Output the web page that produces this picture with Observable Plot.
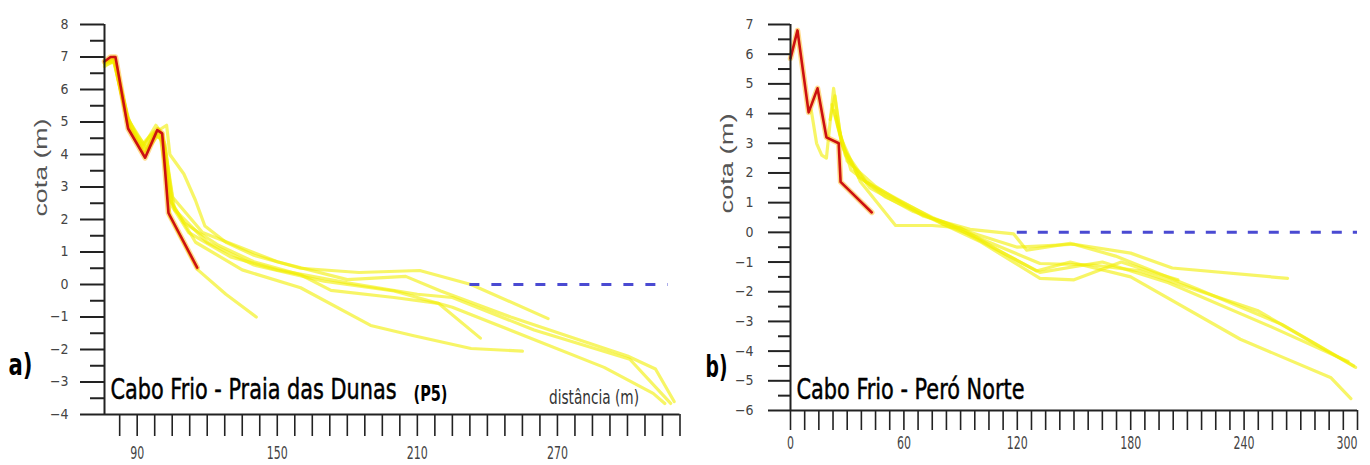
<!DOCTYPE html>
<html><head><meta charset="utf-8">
<script src="https://cdn.jsdelivr.net/npm/d3@7"></script>
<script src="https://cdn.jsdelivr.net/npm/@observablehq/plot@0.6"></script>
<style>
body{margin:0;background:#fff;}
#wrap{display:flex;width:1370px;height:465px;overflow:hidden;}
#wrap svg{overflow:visible;flex:none;}
</style></head><body><div id="wrap"></div>
<script>
// ---------- Panel a) Cabo Frio - Praia das Dunas (P5) ----------
const dunasRed = [[76,6.86],[78.6,7.0],[80.7,7.0],[86.1,4.8],[93.4,3.9],[98.6,4.75],[100.7,4.65],[103.4,2.2],[115.7,0.52]];
const dunasY1 = [[76,6.8],[80,6.95],[85,5.3],[92,4.2],[96,4.6],[102.6,4.9],[104,4.0],[110,3.4],[114.9,2.6],[119,1.8],[128,1.3],[140,0.9],[160,0.5],[185,0.37],[211,0.43],[233,0.0],[266,-1.05]];
const dunasY2 = [[76,6.7],[80,6.9],[86,5.0],[93,4.1],[97,4.6],[100,4.5],[104,2.6],[110,1.9],[125,1.2],[140,0.7],[160,0.3],[173,-0.18],[200,-0.4],[219,-0.58],[237,-1.65]];
const dunasY3 = [[76,6.9],[81,6.8],[86,5.1],[90,4.6],[94,4.2],[99,4.8],[102,4.3],[105,2.4],[112,1.6],[130,0.85],[150,0.45],[180,0.05],[210,-0.3],[225,-0.4],[260,-1.4],[301,-2.3],[318.5,-3.66]];
const dunasY4 = [[76,6.8],[80,6.9],[86,4.9],[93,4.0],[98,4.7],[101,4.5],[104,2.1],[116,0.45],[128,-0.3],[141,-1.0]];
const dunasY5 = [[76,6.75],[80,6.85],[86,5.0],[92,4.3],[97,4.7],[101,4.4],[105,2.5],[115,1.3],[135,0.45],[160,-0.1],[190,-1.26],[208,-1.57],[233,-1.97],[255,-2.05]];
const dunasY6 = [[76,6.8],[80,6.9],[87,4.9],[94,4.1],[99,4.6],[102,4.2],[106,2.3],[120,1.3],[140,0.6],[170,0.1],[200,-0.2],[225,-0.7],[290,-2.55],[311,-3.35],[316,-3.66]];
const dunasY7 = [[76,6.85],[80,7.0],[86,5.1],[93,4.3],[98,4.9],[101,4.6],[105,2.7],[118,1.6],[150,0.7],[180,0.15],[205,0.25],[220,-0.2],[250,-1.0],[300,-2.2],[312,-2.6],[320,-3.6]];
const dunasZero = [{x1: 232.5, x2: 317.5, y: 0}];
const dunasXDomain = [76, 322.5];
const dunasYDomain = [-4, 8];
const dunasXLabels = [90, 150, 210, 270];

// ---------- Panel b) Cabo Frio - Peró Norte ----------
const peroRed = [[0,5.86],[3.7,6.8],[9.6,4.04],[14.3,4.85],[19,3.2],[25.5,3.0],[26.5,1.7],[43,0.67]];
const peroY1 = [[11,4.1],[13.8,3.0],[16.5,2.6],[19,2.5],[22.8,4.85],[26.5,3.2],[36,1.85],[50,1.3],[75,0.5],[95,0.0],[120,-0.5],[150,-0.4],[180,-0.7],[202,-1.2],[263,-1.55]];
const peroY2 = [[21,3.8],[23.5,4.6],[27,3.0],[35,2.0],[37,1.7],[55.6,0.23],[75,0.23],[90,0.15],[110,-0.6],[130,-1.3],[148,-1.0],[180,-1.5],[238,-3.6],[286,-4.9],[296.5,-5.6]];
const peroY3 = [[22,4.3],[28,2.8],[40,1.7],[60,1.0],[80,0.3],[100,-0.2],[132,-1.05],[160,-1.1],[185,-1.3],[247,-2.63],[299,-4.55]];
const peroY4 = [[23,4.1],[29,2.6],[42,1.5],[65,0.7],[85,0.25],[105,-0.45],[132,-1.35],[165,-1.0],[200,-1.7],[255,-3.2],[295,-4.35]];
const peroY5 = [[24,3.9],[30,2.4],[45,1.55],[70,0.55],[95,0.1],[118,-0.05],[125,-0.6],[148,-0.37],[172,-0.8],[215,-1.9],[260,-3.1],[298,-4.5]];
const peroY6 = [[25,3.6],[32,2.1],[50,1.2],[75,0.45],[100,-0.3],[132,-1.55],[150,-1.6],[175,-1.0],[192,-1.35],[205,-1.6]];
const peroZero = [{x1: 120, x2: 300, y: 0}];
const peroXDomain = [0, 300];
const peroYDomain = [-6, 7];
const peroXLabels = [0, 60, 120, 180, 240, 300];

const NARROW = "'Liberation Sans Narrow','Arial Narrow','DejaVu Sans Condensed',sans-serif";
const SANS = "'Liberation Sans',Arial,sans-serif";

function rows(series) {
  return series.flatMap((s, i) => s.map(([x, y]) => ({id: i, x, y})));
}

function fit(el, len, sy) {
  if (len) { el.setAttribute("textLength", len); el.setAttribute("lengthAdjust", "spacingAndGlyphs"); }
  if (sy) {
    const t = el.getAttribute("transform");
    if (t) el.setAttribute("transform", t + ` scale(1,${sy})`);
  }
}

function panel(o) {
  const yMajor = d3.range(o.yDomain[0], o.yDomain[1] + 1, 1);
  const yMinor = d3.range(o.yDomain[0] + 0.5, o.yDomain[1], 1);
  const xTicks = d3.range(o.xFirst, o.xDomain[1] + 0.01, 7.5);
  const svg = Plot.plot({
    width: 685, height: 465,
    marginLeft: o.ml, marginRight: o.mr, marginTop: 24, marginBottom: o.mb,
    x: {domain: o.xDomain, axis: null},
    y: {domain: o.yDomain, axis: null},
    style: {background: "white", overflow: "visible"},
    marks: [
      Plot.line(rows(o.yellow), {x: "x", y: "y", z: "id", stroke: "#f2ee00", strokeOpacity: 0.6, strokeWidth: 3.2, strokeLinejoin: "round"}),
      Plot.line(rows([o.red]), {x: "x", y: "y", stroke: "#ffb000", strokeOpacity: 0.45, strokeWidth: 5.5}),
      Plot.line(rows([o.red]), {x: "x", y: "y", stroke: "#cc1010", strokeWidth: 2.6}),
      Plot.ruleY(o.zero, {x1: "x1", x2: "x2", y: "y", stroke: "#4a4ad2", strokeWidth: 3, strokeDasharray: o.dash}),
      Plot.axisY({ticks: yMinor, tickSize: o.minorT, tickFormat: () => "", label: null, stroke: "#222", strokeWidth: 2}),
      Plot.axisY({ticks: yMajor, tickSize: o.majorT, tickPadding: o.yPad, label: null, stroke: "#222", strokeWidth: 2, fill: "#444", fontSize: 14, fontFamily: NARROW}),
      Plot.axisX({ticks: xTicks, tickSize: o.xT, tickPadding: o.xPad, label: null, stroke: "#222", strokeWidth: 1.6, fill: "#444", fontSize: 17, fontFamily: NARROW,
        tickFormat: d => o.xLabels.includes(d) ? String(d) : ""}),
      Plot.ruleX([o.xDomain[0]], {stroke: "#222", strokeWidth: 2}),
      Plot.ruleY([o.yDomain[0]], {stroke: "#222", strokeWidth: 2}),
      Plot.text(["cota (m)"], {text: d => d, frameAnchor: "left", rotate: -90, dx: o.yLabDx, dy: o.yLabDy, fontSize: 19, fontFamily: SANS, fill: "#555"}),
      Plot.text([o.letter], {text: d => d, frameAnchor: "bottom-left", textAnchor: "start", lineAnchor: "bottom", dx: o.letDx, dy: o.letDy, fontSize: 25, fontWeight: "bold", fontFamily: NARROW, fill: "#000"}),
      Plot.text([o.title], {text: d => d, frameAnchor: "bottom-left", textAnchor: "start", lineAnchor: "bottom", dx: 6, dy: o.titleDy, fontSize: 22, fontFamily: NARROW, fill: "#000", stroke: "#000", strokeWidth: 0.35}),
      ...o.extra
    ]
  });
  const lens = o.lens;
  d3.select(svg).selectAll('g[aria-label="x-axis tick label"] text').each(function () {
    const t = this.textContent;
    if (t) { this.setAttribute("textLength", 7 * t.length); this.setAttribute("lengthAdjust", "spacingAndGlyphs"); }
    if (o.endLast && t === String(o.xDomain[1])) {
      this.setAttribute("text-anchor", "end");
    }
  });
  d3.select(svg).selectAll("text").each(function () {
    const t = this.textContent;
    if (t === o.title) {
      fit(this, o.titleLen, 1.3);
    } else if (lens[t]) {
      fit(this, lens[t][0], lens[t][1]);
    }
  });
  return svg;
}

const wrap = document.getElementById("wrap");
wrap.append(panel({
  ml: 104, mr: 685 - 679.5, mb: 465 - 414,
  xDomain: dunasXDomain, yDomain: dunasYDomain, xFirst: 82.5, xLabels: dunasXLabels, endLast: false,
  yellow: [dunasY1, dunasY2, dunasY3, dunasY4, dunasY5, dunasY6, dunasY7], red: dunasRed,
  zero: dunasZero, dash: "10,12",
  minorT: 14, majorT: 24, yPad: 12, xT: 22, xPad: 10,
  yLabDx: -64, yLabDy: -3,
  letter: "a)", letDx: -96, letDy: -40,
  title: "Cabo Frio - Praia das Dunas", titleLen: 286, titleDy: -16,
  lens: {"cota (m)": [98, null], "distância (m)": [90, 1.2], "a)": [24, 1.2], "(P5)": [34, 1.25]},
  extra: [
    Plot.text(["(P5)"], {text: d => d, frameAnchor: "bottom-left", textAnchor: "start", lineAnchor: "bottom", dx: 309, dy: -14, fontSize: 17, fontWeight: "bold", fontFamily: NARROW, fill: "#000"}),
    Plot.text(["distância (m)"], {text: d => d, frameAnchor: "bottom-right", textAnchor: "end", lineAnchor: "bottom", dx: -41, dy: -11, fontSize: 16, fontFamily: NARROW, fill: "#333"})
  ]
}));
wrap.append(panel({
  ml: 105, mr: 685 - 672, mb: 465 - 410,
  xDomain: peroXDomain, yDomain: peroYDomain, xFirst: 0, xLabels: peroXLabels, endLast: true,
  yellow: [peroY1, peroY2, peroY3, peroY4, peroY5, peroY6], red: peroRed,
  zero: peroZero, dash: "10,11",
  minorT: 12, majorT: 22, yPad: 15, xT: 20, xPad: 6,
  yLabDx: -64, yLabDy: -4,
  letter: "b)", letDx: -85, letDy: -34,
  title: "Cabo Frio - Peró Norte", titleLen: 228, titleDy: -12,
  lens: {"cota (m)": [100, null], "b)": [22, 1.2]},
  extra: []
}));
</script></body></html>
